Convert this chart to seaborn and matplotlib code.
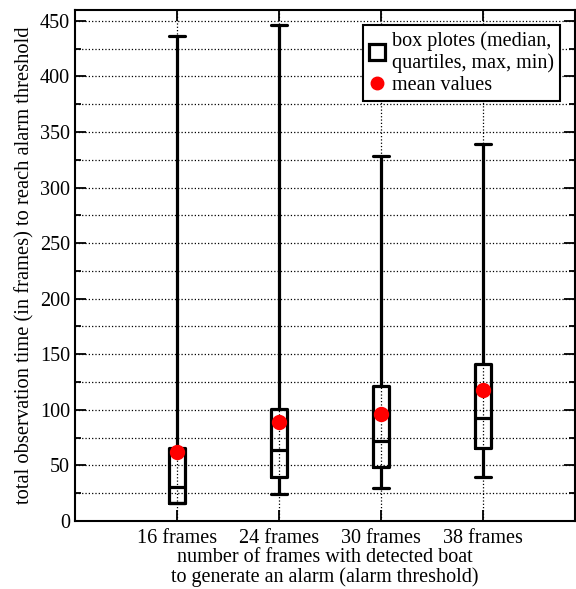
import numpy as np
import pandas as pd
import matplotlib
matplotlib.use("Agg")
import matplotlib.pyplot as plt
from matplotlib.lines import Line2D
from matplotlib.ticker import MultipleLocator
import seaborn as sns

# five-number summaries
categories = ["16 frames", "24 frames", "30 frames", "38 frames"]
mins = [16, 24, 30, 40]
q1s = [16, 40, 49, 66]
medians = [31, 64, 72, 93]
q3s = [66, 101, 121, 141]
maxs = [436, 446, 328, 339]
means = [62, 89, 96, 118]

rows = []
for i, c in enumerate(categories):
    for v in (mins[i], q1s[i], medians[i], q3s[i], maxs[i]):
        rows.append((c, v))
df = pd.DataFrame(rows, columns=["threshold", "time"])

sns.set_theme(style="ticks")
plt.rcParams["font.family"] = ["Liberation Serif", "DejaVu Serif"]
plt.rcParams["font.size"] = 14.5
plt.rcParams["text.color"] = "black"
plt.rcParams["axes.labelcolor"] = "black"

fig = plt.figure(figsize=(5.76, 5.89), dpi=100)
ax = fig.add_axes([0.130, 0.1155, 0.868, 0.868])

sns.boxplot(data=df, x="threshold", y="time", order=categories, whis=np.inf,
            width=0.15, fill=False, color="black", linewidth=2.3,
            capwidths=0.15, ax=ax, zorder=3)
sns.pointplot(x=categories, y=means, order=categories, linestyle="none",
              marker="o", color="red", markersize=9, errorbar=None, ax=ax)
for coll in ax.collections:
    coll.set_zorder(5)
for ln in ax.lines[-1:]:
    ln.set_zorder(5)

ax.set_xlim(-1, 3.9)
ax.set_ylim(0, 460)
ax.yaxis.set_major_locator(MultipleLocator(50))
ax.yaxis.set_minor_locator(MultipleLocator(25))
ax.tick_params(which="both", direction="in", top=True, right=True,
               labelsize=14.5, width=1.3, colors="black")
ax.tick_params(which="major", length=8)
ax.tick_params(which="minor", length=4)
ax.tick_params(axis="x", pad=6)
ax.grid(which="both", axis="y", ls=":", color="black", lw=0.9)
ax.grid(which="major", axis="x", ls=":", color="black", lw=0.9)
ax.set_axisbelow(True)
for s in ax.spines.values():
    s.set_linewidth(1.5)
    s.set_color("black")

ax.set_xlabel("number of frames with detected boat\nto generate an alarm (alarm threshold)",
              fontsize=14.5, linespacing=1.0, labelpad=0)
ax.set_ylabel("total observation time (in frames) to reach alarm threshold",
              fontsize=14.8, labelpad=4)

handles = [
    Line2D([], [], ls="none", marker="s", mfc="white", mec="black", mew=2.3, markersize=11),
    Line2D([], [], ls="none", marker="o", mfc="red", mec="red", markersize=9),
]
leg = ax.legend(handles, ["box plotes (median,\nquartiles, max, min)", "mean values"],
                loc="upper right", fancybox=False, framealpha=1, edgecolor="black",
                fontsize=14.5, borderaxespad=0.75, handlelength=0.8, handletextpad=0.35,
                labelspacing=0.15, borderpad=0.3)
leg.get_frame().set_linewidth(1.5)

fig.savefig("out.png", dpi=100)
